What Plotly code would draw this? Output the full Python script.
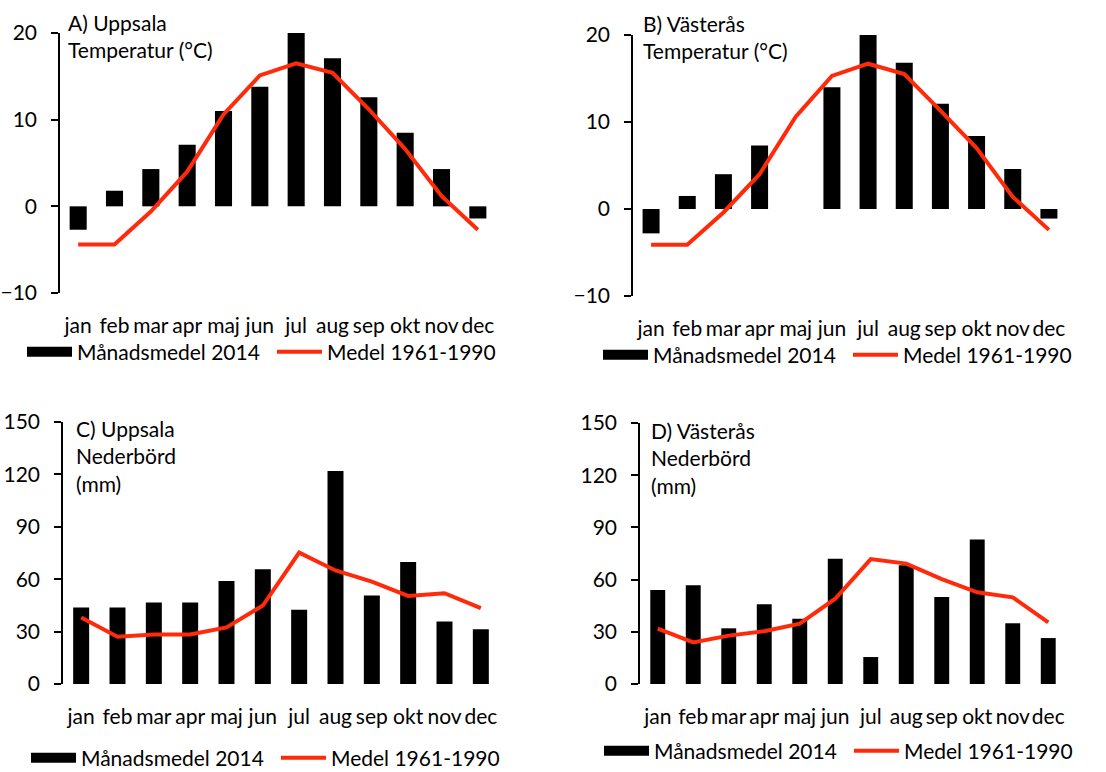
import plotly.graph_objects as go

W, H = 1106, 772

months = ["jan", "feb", "mar", "apr", "maj", "jun", "jul", "aug", "sep", "okt", "nov", "dec"]

upp_temp_2014 = [-2.7, 1.8, 4.3, 7.1, 11.0, 13.8, 20.0, 17.1, 12.6, 8.5, 4.3, -1.4]
upp_temp_norm = [-4.4, -4.4, -0.6, 4.0, 10.6, 15.1, 16.5, 15.4, 11.2, 6.6, 1.2, -2.7]
vas_temp_2014 = [-2.8, 1.5, 4.0, 7.3, None, 14.0, 20.2, 16.8, 12.1, 8.4, 4.6, -1.1]
vas_temp_norm = [-4.1, -4.1, -0.4, 4.0, 10.6, 15.3, 16.7, 15.5, 11.3, 7.0, 1.4, -2.4]
upp_prec_2014 = [43.8, 43.8, 46.6, 46.6, 59.0, 65.7, 42.5, 122.0, 50.6, 69.9, 35.8, 31.4]
upp_prec_norm = [38.1, 27.0, 28.4, 28.4, 32.4, 44.9, 75.2, 65.0, 58.6, 50.4, 52.0, 43.4]
vas_prec_2014 = [54.0, 56.7, 32.0, 45.8, 37.5, 72.0, 15.5, 68.2, 50.0, 83.0, 34.9, 26.4]
vas_prec_norm = [31.8, 23.9, 27.8, 30.3, 34.7, 49.0, 71.8, 69.2, 60.3, 52.7, 49.8, 35.4]

temp_ticks = [-10, 0, 10, 20]
prec_ticks = [0, 30, 60, 90, 120, 150]

bar_name = "Månadsmedel 2014"
line_name = "Medel 1961-1990"
RED = "#FF2A0A"
FONT = "Lato"
FS = 21

# pixel layout of each panel: (left, right, top, bottom)
panels = [
    dict(bars=upp_temp_2014, line=upp_temp_norm, ticks=temp_ticks, box=(60, 496, 33, 293),
         title="A) Uppsala<br>Temperatur (°C)", tpos=(66, 8), leg=(22, 352), bw=0.47),
    dict(bars=vas_temp_2014, line=vas_temp_norm, ticks=temp_ticks, box=(633, 1067, 35, 296),
         title="B) Västerås<br>Temperatur (°C)", tpos=(641, 9), leg=(598, 355), bw=0.47),
    dict(bars=upp_prec_2014, line=upp_prec_norm, ticks=prec_ticks, box=(63, 499, 422, 684),
         title="C) Uppsala<br>Nederbörd<br>(mm)", tpos=(74, 414), leg=(26, 758), bw=0.44),
    dict(bars=vas_prec_2014, line=vas_prec_norm, ticks=prec_ticks, box=(640, 1066, 423, 684),
         title="D) Västerås<br>Nederbörd<br>(mm)", tpos=(649, 416), leg=(599, 751), bw=0.42),
]

fig = go.Figure()
layout = dict(
    width=W, height=H, margin=dict(l=0, r=0, t=0, b=0, autoexpand=False),
    paper_bgcolor="white", plot_bgcolor="white",
    font=dict(family=FONT, size=FS, color="black"),
    annotations=[], showlegend=True,
)

for i, p in enumerate(panels):
    n = i + 1
    xa, ya = f"x{n}", f"y{n}"
    l, r, t, b = p["box"]
    ydom = [1 - b / H, 1 - t / H]
    ymin, ymax = p["ticks"][0], p["ticks"][-1]
    zero_pos = ydom[0] + (0 - ymin) / (ymax - ymin) * (ydom[1] - ydom[0])
    leg_key = "legend" if n == 1 else f"legend{n}"

    fig.add_trace(go.Bar(x=list(range(len(months))), y=p["bars"], width=p["bw"],
                         marker=dict(color="black", line=dict(width=0)),
                         name=bar_name, showlegend=False, xaxis=xa, yaxis=ya))
    fig.add_trace(go.Scatter(x=[None], y=[None], mode="lines", name=bar_name,
                             line=dict(color="black", width=14), legend=leg_key,
                             xaxis=xa, yaxis=ya))
    fig.add_trace(go.Scatter(x=list(range(len(months))), y=p["line"], mode="lines",
                             name=line_name, line=dict(color=RED, width=4),
                             connectgaps=True, legend=leg_key, xaxis=xa, yaxis=ya))

    key = "" if n == 1 else str(n)
    layout["xaxis" + key] = dict(
        domain=[l / W, r / W], anchor=ya, range=[-0.5, len(months) - 0.5],
        tickmode="array", tickvals=list(range(len(months))), ticktext=months,
        tickangle=0, showline=False, showgrid=False, zeroline=False,
        ticks="outside", ticklen=14, tickcolor="rgba(0,0,0,0)",
        tickfont=dict(family=FONT, size=FS),
    )
    layout["yaxis" + key] = dict(
        domain=ydom, anchor=xa, range=[ymin, ymax], tickvals=p["ticks"],
        showline=True, linecolor="black", linewidth=1.6, ticks="outside",
        ticklen=7, tickwidth=1.6, tickcolor="black", showgrid=False, zeroline=False,
        ticklabelstandoff=10, tickfont=dict(family=FONT, size=FS),
    )
    layout[f"xaxis{n + 4}"] = dict(
        domain=[l / W, r / W], overlaying=xa, anchor="free", position=zero_pos,
        type="linear", range=[-0.5, len(months) - 0.5],
        tickmode="array", tickvals=[k - 0.5 for k in range(len(months) + 1)],
        showticklabels=False, showline=True, linecolor="black", linewidth=1.6,
        ticks="outside", ticklen=7, tickwidth=1.6, tickcolor="black",
        showgrid=False, zeroline=False,
    )
    lx, ly = p["leg"]
    layout[leg_key] = dict(
        orientation="h", x=lx / W, y=1 - ly / H, xanchor="left", yanchor="middle",
        font=dict(family=FONT, size=FS), itemwidth=45, bgcolor="rgba(0,0,0,0)",
        entrywidth=190, entrywidthmode="pixels",
        tracegroupgap=0, traceorder="normal",
    )
    tx, ty = p["tpos"]
    layout["annotations"].append(dict(
        text=p["title"], xref="paper", yref="paper", x=tx / W, y=1 - ty / H,
        xanchor="left", yanchor="top", align="left", showarrow=False,
        font=dict(family=FONT, size=FS),
    ))

fig.update_layout(**layout)
fig.write_html("out.html")
